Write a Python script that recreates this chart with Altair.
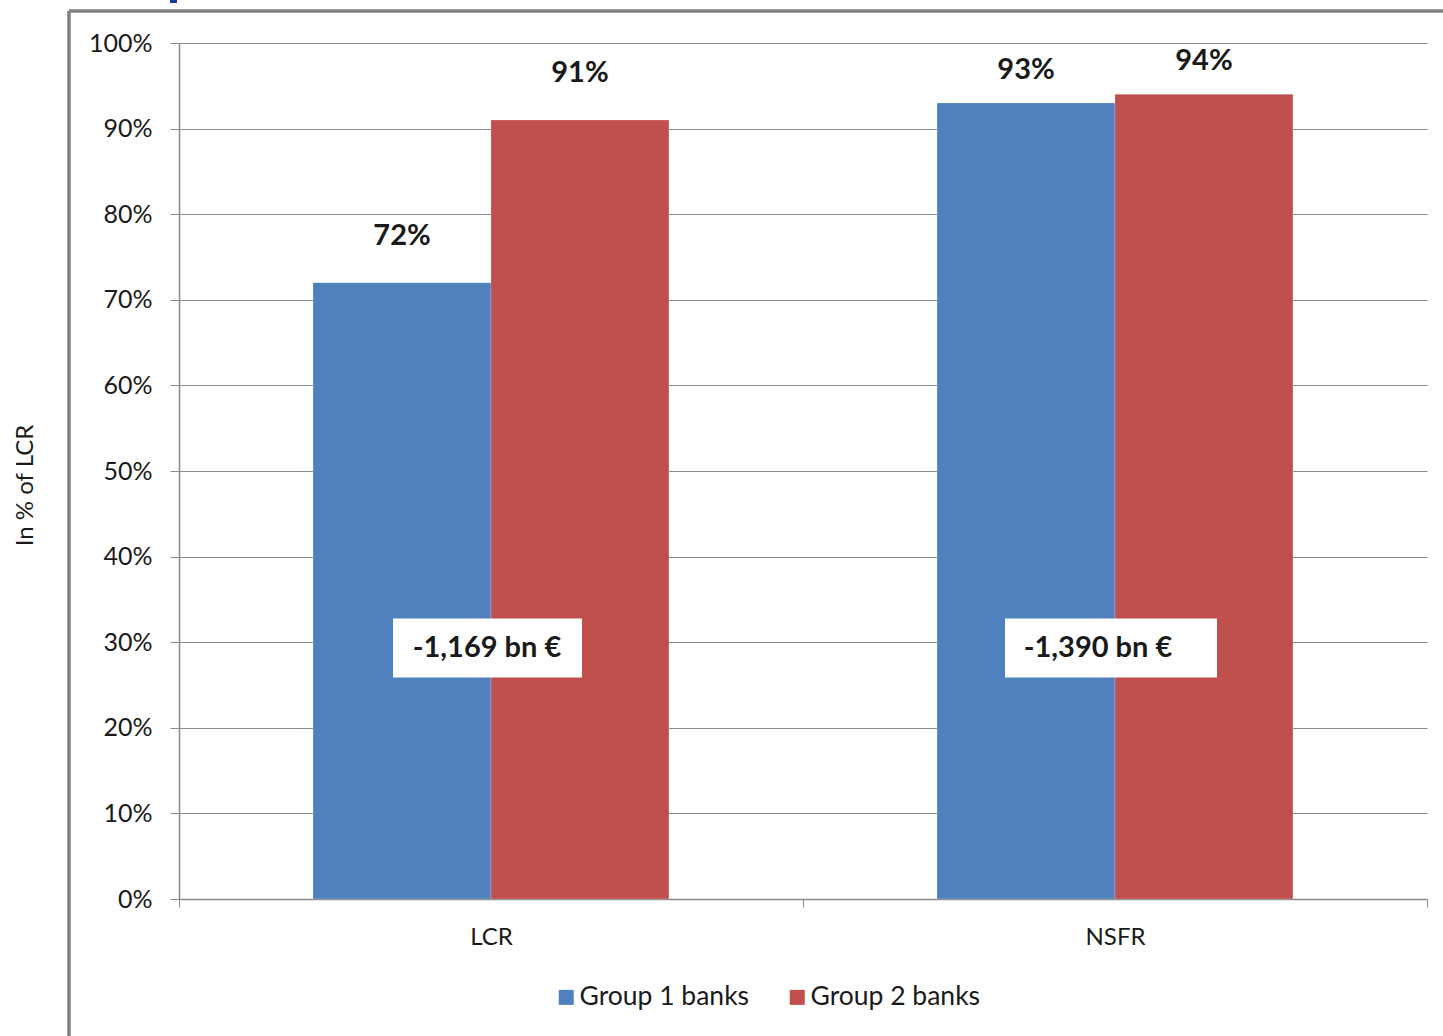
import altair as alt
import pandas as pd

# Liquidity ratios by bank group
ratios = ["LCR", "NSFR"]
groups = ["Group 1 banks", "Group 2 banks"]
group1 = [0.72, 0.93]
group2 = [0.91, 0.94]
shortfalls = ["-1,169 bn €", "-1,390 bn €"]

bars = pd.DataFrame(
    {
        "ratio": ratios * 2,
        "group": [groups[0]] * 2 + [groups[1]] * 2,
        "value": group1 + group2,
    }
)
gaps = pd.DataFrame({"ratio": ratios, "gap": shortfalls})

FONT = "Lato"
GRAY = "#8a8a8a"
TXT = "#1a1a1a"

x_enc = alt.X(
    "ratio:N",
    sort=ratios,
    title=None,
    scale=alt.Scale(paddingInner=0, paddingOuter=0),
    axis=alt.Axis(
        labelAngle=0,
        labelFontSize=24,
        labelFont=FONT,
        labelColor=TXT,
        labelPadding=18,
        tickBand="extent",
        tickSize=8,
        tickColor=GRAY,
        domainColor=GRAY,
        domainWidth=1.5,
        grid=False,
    ),
)
y_enc = alt.Y(
    "value:Q",
    scale=alt.Scale(domain=[0, 1], nice=False),
    axis=alt.Axis(
        values=[i / 10 for i in range(11)],
        format=".0%",
        labelFontSize=25,
        labelFont=FONT,
        labelColor=TXT,
        labelPadding=18,
        tickSize=9,
        tickColor=GRAY,
        domainColor=GRAY,
        domainWidth=1.5,
        gridColor=GRAY,
        gridWidth=1.2,
        title="In % of LCR",
        titleFont=FONT,
        titleFontSize=24,
        titleFontWeight="normal",
        titleColor=TXT,
        titleAngle=270,
        titleX=-154,
        titleY=442,
        titleAlign="center",
        titleBaseline="middle",
    ),
)
xoff = alt.XOffset(
    "group:N", sort=groups, scale=alt.Scale(paddingInner=0, paddingOuter=0.753)
)

base = alt.Chart(bars)

bar_layer = base.mark_bar(stroke="white", strokeWidth=0.5, strokeOpacity=0.4).encode(
    x=x_enc,
    xOffset=xoff,
    y=y_enc,
    color=alt.Color(
        "group:N",
        sort=groups,
        scale=alt.Scale(domain=groups, range=["#4F81BD", "#C0504D"]),
        legend=alt.Legend(
            title=None,
            orient="none",
            direction="horizontal",
            legendX=374,
            legendY=941,
            symbolType="square",
            symbolSize=225,
            symbolStrokeWidth=0,
            labelFont=FONT,
            labelFontSize=26.5,
            labelColor=TXT,
            labelOffset=0,
            labelLimit=400,
            columnPadding=34,
        ),
    ),
)


def value_labels(ratio, dy):
    return (
        base.transform_filter(alt.datum.ratio == ratio)
        .mark_text(font=FONT, fontSize=29, fontWeight="bold", color=TXT,
                   baseline="middle", dy=dy)
        .encode(x=alt.X("ratio:N", sort=ratios), xOffset=xoff, y="value:Q",
                text=alt.Text("value:Q", format=".0%"))
    )


def gap_box(ratio, box_w, dx_box, dx_text):
    # white label box drawn as a custom symbol path, shifted by dx_box pixels
    half_h = 59 / box_w
    s = 2 * dx_box / box_w
    l, r = -1 + s, 1 + s
    shape = (f"M {l:.4f} -{half_h:.4f} L {r:.4f} -{half_h:.4f} "
             f"L {r:.4f} {half_h:.4f} L {l:.4f} {half_h:.4f} Z")
    g = alt.Chart(gaps).transform_filter(alt.datum.ratio == ratio)
    box = g.mark_point(
        shape=shape, size=box_w * box_w, filled=True, fill="white",
        opacity=1, strokeWidth=0,
    ).encode(x=alt.X("ratio:N", sort=ratios), y=alt.value(605))
    txt = g.mark_text(
        font=FONT, fontSize=29, fontWeight="bold", color=TXT,
        baseline="middle", dx=dx_text,
    ).encode(x=alt.X("ratio:N", sort=ratios), y=alt.value(605), text="gap:N")
    return box + txt


# outer frame lines around the chart panel
frame_top = alt.Chart(gaps).mark_rule(color="#808080", strokeWidth=3).encode(
    x=alt.value(-110), x2=alt.value(1270), y=alt.value(-32)
)
frame_left = alt.Chart(gaps).mark_rule(color="#808080", strokeWidth=3).encode(
    x=alt.value(-110), y=alt.value(-32), y2=alt.value(1000)
)
title_mark = alt.Chart(gaps).mark_rule(color="#0a3ea8", strokeWidth=7).encode(
    x=alt.value(-5.5), y=alt.value(-45), y2=alt.value(-40)
)

chart = (
    alt.layer(
        bar_layer,
        value_labels("LCR", -47),
        value_labels("NSFR", -33),
        gap_box("LCR", 189, -3.5, -4),
        gap_box("NSFR", 212, -4, -17),
        frame_top,
        frame_left,
        title_mark,
    )
    .properties(
        width=1248,
        height=856,
        autosize=alt.AutoSizeParams(type="none"),
        padding={"left": 179, "top": 43, "right": 16, "bottom": 137},
        background="white",
    )
    .configure_view(stroke=None)
)

chart.save("out.html", embed_options={"renderer": "svg", "actions": False})
